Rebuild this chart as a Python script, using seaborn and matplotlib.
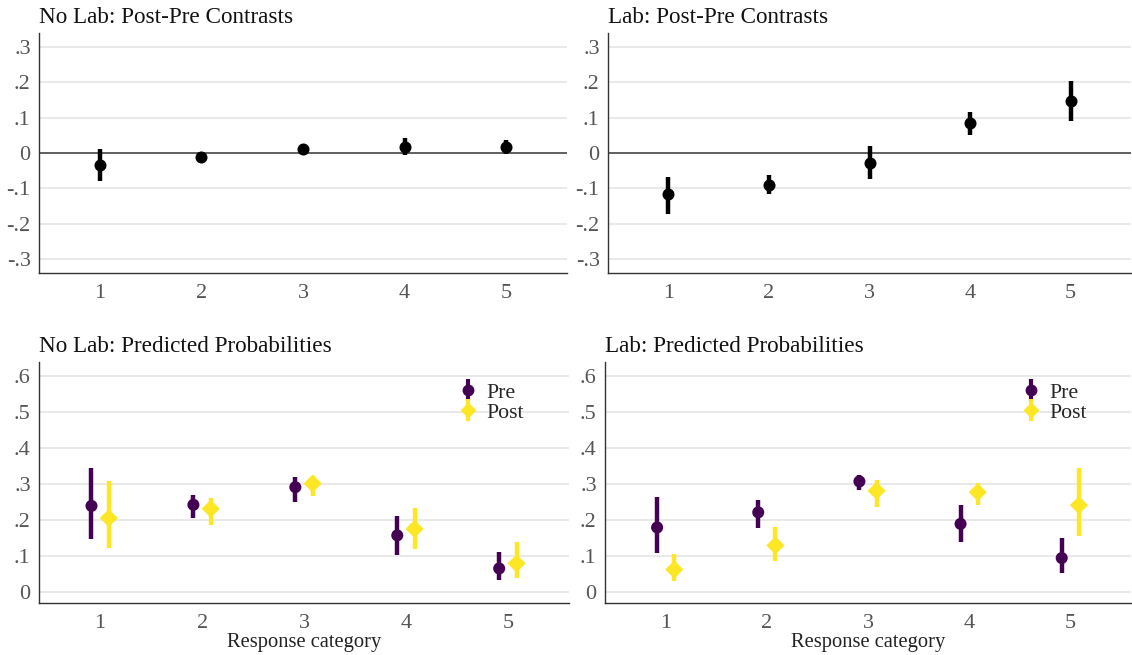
import numpy as np
import pandas as pd
import matplotlib
matplotlib.use("Agg")
import matplotlib.pyplot as plt
import seaborn as sns

# response categories
cats = [1, 2, 3, 4, 5]

# post-pre contrasts (estimate, lower, upper)
nolab_diff = [-0.033, -0.012, 0.010, 0.018, 0.016]
nolab_diff_lo = [-0.078, -0.021, 0.000, -0.005, -0.004]
nolab_diff_hi = [0.012, -0.004, 0.022, 0.042, 0.037]

lab_diff = [-0.117, -0.090, -0.027, 0.085, 0.147]
lab_diff_lo = [-0.172, -0.115, -0.073, 0.050, 0.092]
lab_diff_hi = [-0.068, -0.062, 0.021, 0.117, 0.205]

# predicted probabilities
nolab_pre = [0.240, 0.243, 0.292, 0.158, 0.066]
nolab_pre_lo = [0.148, 0.205, 0.252, 0.103, 0.033]
nolab_pre_hi = [0.346, 0.270, 0.320, 0.213, 0.113]
nolab_post = [0.206, 0.232, 0.302, 0.176, 0.080]
nolab_post_lo = [0.122, 0.188, 0.267, 0.121, 0.040]
nolab_post_hi = [0.308, 0.263, 0.323, 0.235, 0.140]

lab_pre = [0.180, 0.222, 0.308, 0.190, 0.095]
lab_pre_lo = [0.108, 0.178, 0.283, 0.140, 0.053]
lab_pre_hi = [0.264, 0.256, 0.327, 0.243, 0.152]
lab_post = [0.063, 0.130, 0.282, 0.278, 0.242]
lab_post_lo = [0.032, 0.088, 0.238, 0.242, 0.155]
lab_post_hi = [0.106, 0.180, 0.313, 0.303, 0.345]

diff_ticks = [-0.3, -0.2, -0.1, 0, 0.1, 0.2, 0.3]
diff_labels = ["-.3", "-.2", "-.1", "0", ".1", ".2", ".3"]
prob_ticks = [0, 0.1, 0.2, 0.3, 0.4, 0.5, 0.6]
prob_labels = ["0", ".1", ".2", ".3", ".4", ".5", ".6"]

PRE_COL = "#440154"
POST_COL = "#fde725"

sns.set_theme(style="white")
plt.rcParams["font.family"] = ["Liberation Serif", "DejaVu Serif"]

fig = plt.figure(figsize=(11.32, 6.55), dpi=100)

ax_tl = fig.add_axes([39 / 1132, 1 - 273 / 655, 528 / 1132, 240 / 655])
ax_tr = fig.add_axes([608 / 1132, 1 - 273 / 655, 523 / 1132, 240 / 655])
ax_bl = fig.add_axes([39 / 1132, 1 - 603 / 655, 530 / 1132, 241 / 655])
ax_br = fig.add_axes([605 / 1132, 1 - 603 / 655, 526 / 1132, 241 / 655])


def style_axis(ax, title, ticks, labels, ylim, xlabel=None):
    ax.set_xlim(0.4, 5.6)
    ax.set_ylim(*ylim)
    ax.set_yticks(ticks)
    ax.set_yticklabels(labels)
    ax.set_xticks(cats)
    ax.set_xticklabels([str(c) for c in cats])
    ax.grid(axis="y", color="#e3e3e3", linewidth=1.1, zorder=0)
    ax.set_axisbelow(True)
    for s in ["top", "right"]:
        ax.spines[s].set_visible(False)
    for s in ["left", "bottom"]:
        ax.spines[s].set_color("#333333")
        ax.spines[s].set_linewidth(1.0)
    ax.tick_params(axis="both", colors="#333333", labelcolor="#555555",
                   labelsize=16, length=3, width=0.8, direction="out", pad=3)
    ax.tick_params(axis="x", pad=5)
    ax.set_title(title, loc="left", fontsize=16.7, color="#111111", pad=7, x=0.0)
    ax.set_xlabel(xlabel if xlabel else "", fontsize=14.8, color="#222222", labelpad=0)
    ax.set_ylabel("")


def contrast_panel(ax, est, lo, hi, title):
    df = pd.DataFrame({"cat": cats, "est": est, "lo": lo, "hi": hi})
    ax.axhline(0, color="#555555", linewidth=1.3, zorder=1)
    ax.vlines(df["cat"], df["lo"], df["hi"], color="black", linewidth=3.2, zorder=2)
    sns.scatterplot(data=df, x="cat", y="est", color="black", s=75,
                    linewidth=0, ax=ax, zorder=3, legend=False)
    style_axis(ax, title, diff_ticks, diff_labels, (-0.34, 0.34))


def prob_panel(ax, pre, pre_lo, pre_hi, post, post_lo, post_hi, title):
    off = 0.085
    df = pd.DataFrame({
        "x": [c - off for c in cats] + [c + off for c in cats],
        "est": pre + post,
        "lo": pre_lo + post_lo,
        "hi": pre_hi + post_hi,
        "period": ["Pre"] * 5 + ["Post"] * 5,
    })
    pal = {"Pre": PRE_COL, "Post": POST_COL}
    for p in ["Pre", "Post"]:
        sub = df[df["period"] == p]
        ax.vlines(sub["x"], sub["lo"], sub["hi"], color=pal[p], linewidth=3.2, zorder=2)
    sns.scatterplot(data=df, x="x", y="est", hue="period", style="period",
                    markers={"Pre": "o", "Post": "D"}, palette=pal,
                    size="period", sizes={"Pre": 75, "Post": 85},
                    linewidth=0, ax=ax, zorder=3, legend=False)
    # legend proxies with vertical error bars
    h_pre = ax.errorbar([np.nan], [np.nan], yerr=[[0.02], [0.02]], fmt="o",
                        color=PRE_COL, markersize=7.5, elinewidth=3, capsize=0)
    h_post = ax.errorbar([np.nan], [np.nan], yerr=[[0.02], [0.02]], fmt="D",
                         color=POST_COL, markersize=7.5, elinewidth=3, capsize=0)
    style_axis(ax, title, prob_ticks, prob_labels, (-0.03, 0.64),
               xlabel="Response category")
    ax.legend([h_pre, h_post], ["Pre", "Post"], loc="upper left",
              bbox_to_anchor=(0.793, 0.915), frameon=False, fontsize=15.7,
              handlelength=0.8, handletextpad=0.45, labelspacing=0.0,
              borderpad=0, borderaxespad=0)


contrast_panel(ax_tl, nolab_diff, nolab_diff_lo, nolab_diff_hi, "No Lab: Post-Pre Contrasts")
contrast_panel(ax_tr, lab_diff, lab_diff_lo, lab_diff_hi, "Lab: Post-Pre Contrasts")
prob_panel(ax_bl, nolab_pre, nolab_pre_lo, nolab_pre_hi,
           nolab_post, nolab_post_lo, nolab_post_hi, "No Lab: Predicted Probabilities")
prob_panel(ax_br, lab_pre, lab_pre_lo, lab_pre_hi,
           lab_post, lab_post_lo, lab_post_hi, "Lab: Predicted Probabilities")

fig.savefig("out.png", dpi=100, facecolor="white")
